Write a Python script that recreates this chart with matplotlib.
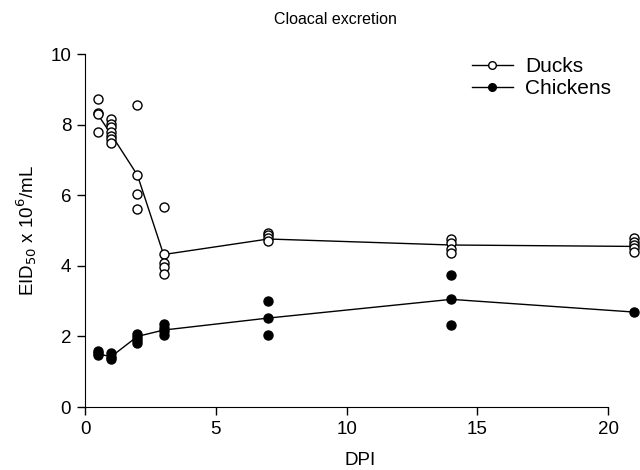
import matplotlib
matplotlib.use("Agg")
import matplotlib.pyplot as plt
from matplotlib.lines import Line2D

plt.rcParams["font.family"] = ["Liberation Sans", "DejaVu Sans"]

# individual bird titres (EID50 x 10^6/mL) per day post infection
duck_dpi = [0.5, 0.5, 0.5, 0.5,
            1, 1, 1, 1, 1, 1, 1,
            2, 2, 2, 2,
            3, 3, 3, 3, 3,
            7, 7, 7, 7,
            14, 14, 14, 14,
            21, 21, 21, 21, 21]
duck_vals = [8.73, 8.32, 8.30, 7.80,
             8.16, 8.02, 7.92, 7.80, 7.68, 7.58, 7.47,
             8.55, 6.57, 6.03, 5.62,
             5.67, 4.34, 4.07, 3.97, 3.77,
             4.94, 4.86, 4.78, 4.70,
             4.75, 4.64, 4.49, 4.37,
             4.78, 4.68, 4.59, 4.50, 4.38]

chick_dpi = [0.5, 0.5, 0.5,
             1, 1, 1,
             2, 2, 2, 2,
             3, 3, 3, 3,
             7, 7, 7,
             14, 14, 14,
             21]
chick_vals = [1.58, 1.52, 1.47,
              1.52, 1.43, 1.36,
              2.08, 1.98, 1.90, 1.82,
              2.36, 2.25, 2.14, 2.05,
              3.00, 2.52, 2.03,
              3.74, 3.05, 2.32,
              2.69]

# group means (connecting lines)
mean_dpi = [0.5, 1, 2, 3, 7, 14, 21]
duck_mean = [8.27, 7.72, 6.57, 4.32, 4.76, 4.59, 4.55]
chick_mean = [1.50, 1.43, 2.00, 2.18, 2.52, 3.05, 2.69]

fig = plt.figure(figsize=(6.4, 4.7), dpi=100)
ax = fig.add_axes([0.133, 0.134, 0.858, 0.751])

ms = 6.5
ax.plot(mean_dpi, duck_mean, color="black", lw=1.0, zorder=2, clip_on=False)
ax.plot(mean_dpi, chick_mean, color="black", lw=1.0, zorder=2, clip_on=False)
ax.plot(duck_dpi, duck_vals, "o", ms=ms, mfc="white", mec="black", mew=1.0,
        zorder=3, clip_on=False)
ax.plot(chick_dpi, chick_vals, "o", ms=ms, mfc="black", mec="black", mew=1.0,
        zorder=3, clip_on=False)

ax.set_xlim(0, 21)
ax.set_ylim(0, 10)
ax.set_xticks([0, 5, 10, 15, 20])
ax.set_yticks([0, 2, 4, 6, 8, 10])
ax.spines["top"].set_visible(False)
ax.spines["right"].set_visible(False)
ax.spines["bottom"].set_bounds(0, 20)
ax.tick_params(direction="out", length=6, width=1.0, labelsize=13.5, pad=4)

ax.set_xlabel("DPI", fontsize=13.5, labelpad=10)
ax.set_ylabel(r"EID$_{50}$ x 10$^{6}$/mL", fontsize=13.5, labelpad=8)
fig.text(335 / 640, 1 - 19 / 470, "Cloacal excretion", ha="center", va="center",
         fontsize=11.5)

handles = [
    Line2D([], [], color="black", lw=1.0, marker="o", ms=5.5, mfc="white", mec="black"),
    Line2D([], [], color="black", lw=1.0, marker="o", ms=5.5, mfc="black", mec="black"),
]
fig.legend(handles, ["Ducks", "Chickens"], loc="upper left",
           bbox_to_anchor=(472 / 640, 1 - 57 / 470), bbox_transform=fig.transFigure,
           frameon=False, fontsize=15, handlelength=1.95, handletextpad=0.6,
           labelspacing=0.15, borderpad=0, borderaxespad=0)

fig.savefig("out.png", dpi=100)
